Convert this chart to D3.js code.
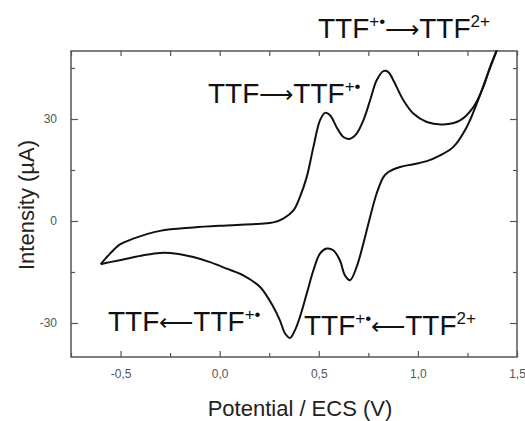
<!DOCTYPE html>
<html>
<head>
<meta charset="utf-8">
<script src="https://cdn.jsdelivr.net/npm/d3@7"></script>
<style>
  body { margin: 0; background: #fff; }
  svg { font-family: "Liberation Sans", Arial, sans-serif; }
</style>
</head>
<body>
<svg></svg>
<script>
var width = 525;
var height = 421;

// forward scan (oxidation), from -0.6 V up to 1.4 V
var forwardE = [-0.600, -0.553, -0.503, -0.436, -0.301, -0.133, 0.035, 0.204, 0.271, 0.321, 0.372, 0.405,
  0.439, 0.473, 0.506, 0.532, 0.557, 0.590, 0.624, 0.658, 0.691, 0.725, 0.759, 0.792, 0.826, 0.851,
  0.876, 0.927, 0.977, 1.045, 1.128, 1.213, 1.280, 1.330, 1.364, 1.398];
var forwardI = [-12.7, -9.6, -6.9, -5.2, -2.9, -1.9, -1.3, -0.8, -0.4, 0.7, 3.1, 7.1,
  12.9, 21.8, 29.6, 31.8, 31.1, 27.6, 24.7, 24.2, 25.7, 29.6, 35.5, 41.4, 44.1, 43.8,
  41.4, 35.5, 31.6, 29.1, 28.4, 29.6, 33.5, 39.4, 45.3, 50.2];

// reverse scan (reduction), from 1.4 V back to -0.6 V
var reverseE = [1.398, 1.347, 1.297, 1.246, 1.179, 1.112, 1.045, 0.977, 0.910, 0.851, 0.826, 0.792,
  0.759, 0.725, 0.691, 0.658, 0.632, 0.607, 0.573, 0.540, 0.506, 0.473, 0.439, 0.405, 0.380, 0.355,
  0.330, 0.304, 0.271, 0.204, 0.119, 0.035, -0.049, -0.133, -0.217, -0.301, -0.385, -0.469, -0.553, -0.600];
var reverseI = [50.2, 42.4, 34.5, 27.6, 21.8, 19.3, 17.6, 16.7, 15.9, 14.4, 12.9, 8.1,
  1.2, -6.6, -13.5, -17.4, -16.0, -11.6, -8.6, -8.1, -9.6, -14.5, -21.4, -28.2, -32.1, -34.4,
  -33.1, -29.2, -25.3, -19.4, -16.0, -14.0, -12.1, -10.6, -9.6, -9.4, -10.1, -11.1, -12.1, -12.7];

var xTicks = [-0.5, 0, 0.5, 1.0, 1.5];
var xMinor = [-0.75, -0.25, 0.25, 0.75, 1.25];
var yTicks = [-30, 0, 30];
var yMinor = [-15, 15, 45];

var svg = d3.select("svg")
            .attr("width", width)
            .attr("height", height);

var plotLeft = 71, plotRight = 517, plotTop = 51, plotBottom = 357;

var xScale = d3.scaleLinear()
               .domain([-0.75, 1.5])
               .range([plotLeft, plotRight]);

var yScale = d3.scaleLinear()
               .domain([-40, 50])
               .range([plotBottom, plotTop]);

var fmtX = function(d) { return d3.format(".1f")(d).replace(".", ",").replace("−", "-"); };
var fmtY = function(d) { return d3.format("d")(d).replace("−", "-"); };
var axisColor = "#555";

// axes with ticks pointing inward
function styleAxis(g) {
  g.select(".domain").remove();
  g.selectAll("line").attr("stroke", axisColor).attr("stroke-width", 1.2);
  g.selectAll("text").attr("fill", "#555").attr("font-size", 12);
}

svg.append("g")
  .attr("transform", "translate(0," + plotBottom + ")")
  .call(d3.axisBottom(xScale).tickValues(xTicks).tickSizeInner(-6).tickPadding(12).tickFormat(fmtX))
  .call(styleAxis);
svg.append("g")
  .attr("transform", "translate(0," + plotBottom + ")")
  .call(d3.axisBottom(xScale).tickValues(xMinor).tickSizeInner(-4).tickFormat(""))
  .call(styleAxis);
svg.append("g")
  .attr("transform", "translate(0," + plotTop + ")")
  .call(d3.axisTop(xScale).tickValues(xTicks.concat(xMinor)).tickSizeInner(-5).tickFormat(""))
  .call(styleAxis);

svg.append("g")
  .attr("transform", "translate(" + plotLeft + ",0)")
  .call(d3.axisLeft(yScale).tickValues(yTicks).tickSizeInner(-7).tickPadding(14).tickFormat(fmtY))
  .call(styleAxis);
svg.append("g")
  .attr("transform", "translate(" + plotLeft + ",0)")
  .call(d3.axisLeft(yScale).tickValues(yMinor).tickSizeInner(-4).tickFormat(""))
  .call(styleAxis);
svg.append("g")
  .attr("transform", "translate(" + plotRight + ",0)")
  .call(d3.axisRight(yScale).tickValues(yTicks).tickSizeInner(-7).tickFormat(""))
  .call(styleAxis);
svg.append("g")
  .attr("transform", "translate(" + plotRight + ",0)")
  .call(d3.axisRight(yScale).tickValues(yMinor).tickSizeInner(-4).tickFormat(""))
  .call(styleAxis);

svg.append("rect")
  .attr("x", plotLeft).attr("y", plotTop)
  .attr("width", plotRight - plotLeft).attr("height", plotBottom - plotTop)
  .attr("fill", "none").attr("stroke", axisColor).attr("stroke-width", 1.5);

var line = d3.line()
  .x(function(d) { return xScale(d[0]); })
  .y(function(d) { return yScale(d[1]); })
  .curve(d3.curveCatmullRom.alpha(0.5));

var fwd = forwardE.map(function(e, i) { return [e, forwardI[i]]; });
var rev = reverseE.map(function(e, i) { return [e, reverseI[i]]; });

svg.append("path").datum(fwd).attr("d", line)
  .attr("fill", "none").attr("stroke", "#111").attr("stroke-width", 2);
svg.append("path").datum(rev).attr("d", line)
  .attr("fill", "none").attr("stroke", "#111").attr("stroke-width", 2);

// annotations: parts are plain text, arrows or superscripts
function label(x, y, parts) {
  var t = svg.append("text").attr("x", x).attr("y", y)
    .attr("font-size", 28).attr("fill", "#111");
  var raised = false;
  parts.forEach(function(p) {
    var s = t.append("tspan").text(p.s);
    if (p.sup) {
      s.attr("dy", raised ? 0 : -11).attr("font-size", 17);
      raised = true;
    } else if (p.arrow) {
      s.attr("dy", raised ? 11 : 0).attr("font-family", "DejaVu Sans")
        .attr("font-weight", 200).attr("font-size", 24);
      raised = false;
    } else {
      s.attr("dy", raised ? 11 : 0);
      raised = false;
    }
  });
}

label(318, 38, [{s: "TTF"}, {s: "+•", sup: true}, {s: "⟶", arrow: true}, {s: "TTF"}, {s: "2+", sup: true}]);
label(208, 103, [{s: "TTF"}, {s: "⟶", arrow: true}, {s: "TTF"}, {s: "+•", sup: true}]);
label(108, 331, [{s: "TTF"}, {s: "⟵", arrow: true}, {s: "TTF"}, {s: "+•", sup: true}]);
label(304, 335, [{s: "TTF"}, {s: "+•", sup: true}, {s: "⟵", arrow: true}, {s: "TTF"}, {s: "2+", sup: true}]);

svg.append("text")
  .attr("x", 300).attr("y", 416)
  .attr("text-anchor", "middle")
  .attr("font-size", 22).attr("fill", "#222")
  .text("Potential / ECS (V)");

svg.append("text")
  .attr("transform", "translate(34,205) rotate(-90)")
  .attr("text-anchor", "middle")
  .attr("font-size", 22).attr("fill", "#222")
  .text("Intensity (µA)");
</script>
</body>
</html>
